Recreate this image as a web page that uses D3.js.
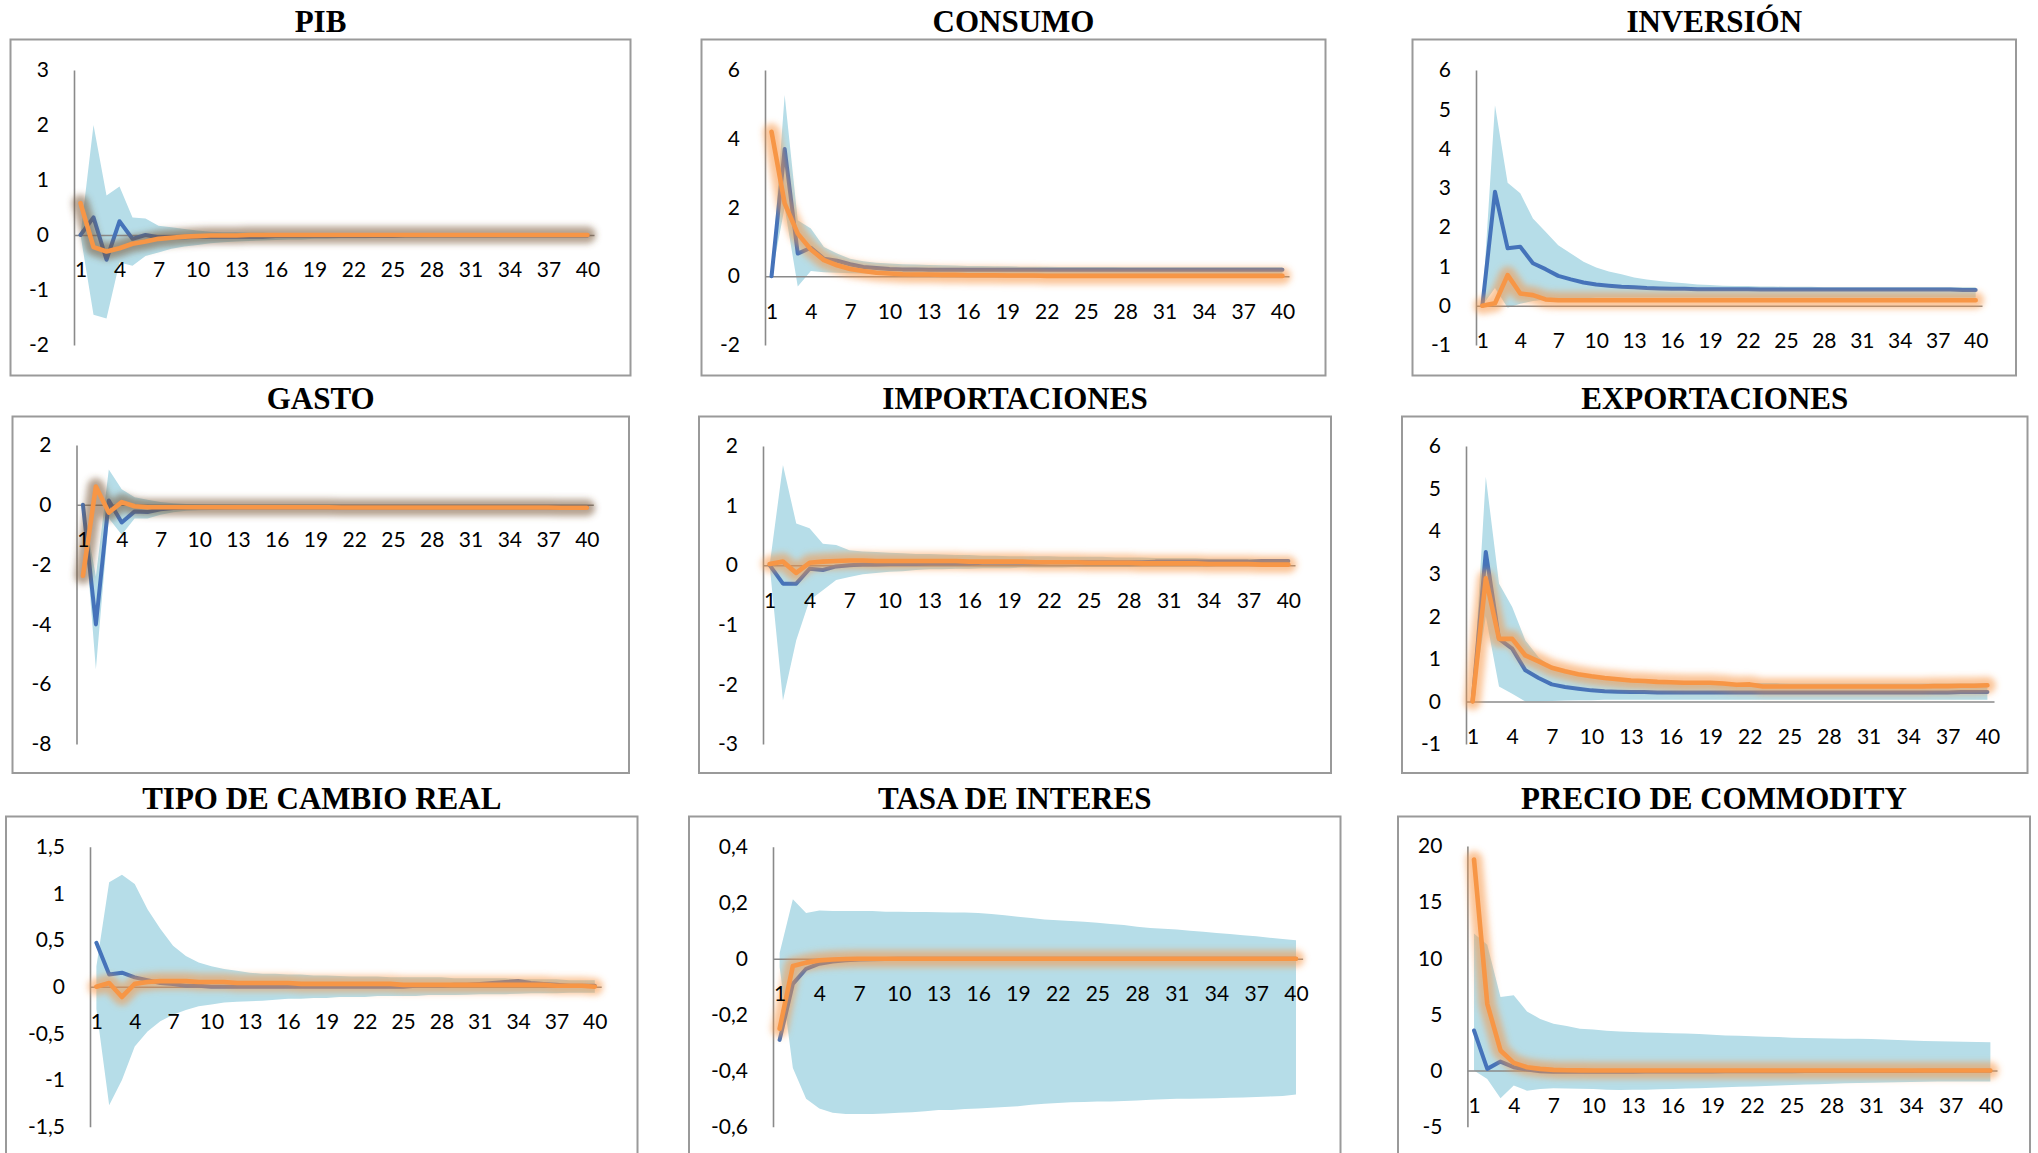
<!DOCTYPE html>
<html><head><meta charset="utf-8">
<script src="https://cdn.jsdelivr.net/npm/d3@7"></script>
<style>
html,body{margin:0;padding:0;background:#fff;}
svg{display:block;}
.title{font-family:"Liberation Serif","Times New Roman",serif;font-weight:bold;font-size:31px;fill:#000;}
.tick text{font-family:Lato,"Open Sans",sans-serif;font-size:21px;fill:#000;}
</style></head><body>
<svg id="chart" width="2038" height="1153"></svg>
<script>
const periods = d3.range(1, 41);
const xTickValues = [1,4,7,10,13,16,19,22,25,28,31,34,37,40];
const titles = ["PIB","CONSUMO","INVERSIÓN","GASTO","IMPORTACIONES","EXPORTACIONES","TIPO DE CAMBIO REAL","TASA DE INTERES","PRECIO DE COMMODITY"];

const pibTicks = [-2,-1,0,1,2,3];
const consTicks = [-2,0,2,4,6];
const invTicks = [-1,0,1,2,3,4,5,6];
const gasTicks = [-8,-6,-4,-2,0,2];
const impTicks = [-3,-2,-1,0,1,2];
const expTicks = [-1,0,1,2,3,4,5,6];
const tcrTicks = [-1.5,-1,-0.5,0,0.5,1,1.5];
const tasaTicks = [-0.6,-0.4,-0.2,0,0.2,0.4];
const comTicks = [-5,0,5,10,15,20];

const pibBlue = [0,0.32,-0.45,0.25,-0.07,0.00,-0.04,-0.04,-0.04,-0.03,
 -0.03,-0.03,-0.03,-0.03,-0.03,-0.02,-0.02,-0.02,-0.02,-0.02,
 -0.02,-0.02,-0.02,-0.02,-0.02,-0.01,-0.01,-0.01,-0.01,-0.01,
 -0.01,-0.01,-0.01,-0.01,-0.01,-0.01,-0.01,-0.01,-0.01,-0.01];
const pibOrange = [0.58,-0.22,-0.30,-0.24,-0.16,-0.12,-0.07,-0.05,-0.03,-0.02,
 -0.01,-0.01,-0.01,0,0,0,0,0,0,0,
 0,0,0,0,0,0,0,0,0,0,
 0,0,0,0,0,0,0,0,0,0];
const pibUpper = [0,2.00,0.72,0.88,0.32,0.30,0.17,0.14,0.11,0.08,
 0.06,0.05,0.05,0.04,0.04,0.03,0.03,0.03,0.03,0.02,
 0.02,0.02,0.02,0.02,0.02,0.02,0.02,0.02,0.02,0.02,
 0.02,0.02,0.02,0.02,0.02,0.02,0.02,0.02,0.02,0.02];
const pibLower = [0,-1.45,-1.52,-0.50,-0.56,-0.38,-0.32,-0.25,-0.21,-0.18,
 -0.15,-0.13,-0.12,-0.11,-0.10,-0.09,-0.08,-0.08,-0.07,-0.07,
 -0.06,-0.06,-0.06,-0.05,-0.05,-0.05,-0.05,-0.04,-0.04,-0.04,
 -0.04,-0.04,-0.04,-0.03,-0.03,-0.03,-0.03,-0.03,-0.03,-0.03];

const consBlue = [0,3.70,0.66,0.83,0.51,0.45,0.35,0.27,0.24,0.21,
 0.20,0.20,0.19,0.19,0.19,0.19,0.19,0.19,0.19,0.19,
 0.19,0.19,0.19,0.19,0.19,0.19,0.19,0.19,0.19,0.19,
 0.19,0.19,0.19,0.19,0.19,0.19,0.19,0.19,0.19,0.19];
const consOrange = [4.20,2.12,1.24,0.78,0.47,0.32,0.21,0.15,0.10,0.08,
 0.06,0.05,0.05,0.04,0.04,0.03,0.03,0.03,0.02,0.02,
 0.02,0.01,0.01,0.01,0.01,0.01,0.01,0.01,0.01,0.01,
 0.01,0.01,0.01,0.01,0.01,0.01,0.01,0.01,0.01,0.01];
const consUpper = [0,5.27,1.63,1.39,0.85,0.66,0.51,0.44,0.39,0.37,
 0.35,0.34,0.33,0.32,0.31,0.30,0.30,0.29,0.29,0.28,
 0.28,0.28,0.27,0.27,0.27,0.27,0.27,0.26,0.26,0.26,
 0.26,0.26,0.26,0.26,0.26,0.26,0.26,0.26,0.26,0.26];
const consLower = [0,2.00,-0.30,0.15,0.12,0.10,0.09,0.08,0.07,0.07,
 0.06,0.06,0.06,0.06,0.06,0.06,0.06,0.06,0.06,0.06,
 0.06,0.06,0.06,0.06,0.06,0.06,0.06,0.06,0.06,0.06,
 0.06,0.06,0.06,0.06,0.06,0.06,0.06,0.06,0.06,0.06];

const invBlue = [0,2.90,1.46,1.50,1.08,0.93,0.76,0.67,0.59,0.54,
 0.51,0.48,0.47,0.45,0.44,0.43,0.43,0.42,0.42,0.42,
 0.42,0.42,0.41,0.41,0.41,0.41,0.41,0.41,0.41,0.41,
 0.41,0.41,0.41,0.41,0.41,0.41,0.41,0.41,0.40,0.40];
const invOrange = [0,0.06,0.78,0.31,0.27,0.16,0.14,0.14,0.14,0.14,
 0.14,0.14,0.14,0.14,0.14,0.14,0.14,0.14,0.14,0.14,
 0.14,0.14,0.14,0.14,0.14,0.14,0.14,0.14,0.14,0.14,
 0.14,0.14,0.14,0.14,0.14,0.14,0.14,0.14,0.14,0.14];
const invUpper = [0,5.10,3.13,2.86,2.22,1.88,1.54,1.33,1.12,0.97,
 0.87,0.80,0.72,0.67,0.63,0.60,0.57,0.54,0.53,0.51,
 0.50,0.50,0.49,0.49,0.48,0.48,0.48,0.47,0.47,0.47,
 0.47,0.47,0.47,0.47,0.47,0.47,0.47,0.47,0.47,0.47];
const invLower = [0,0.45,-0.05,0.05,0.12,0.15,0.17,0.18,0.19,0.20,
 0.20,0.20,0.20,0.20,0.20,0.20,0.20,0.20,0.20,0.20,
 0.20,0.20,0.20,0.20,0.20,0.20,0.20,0.20,0.20,0.20,
 0.20,0.20,0.20,0.20,0.20,0.20,0.20,0.20,0.20,0.20];

const gasBlue = [0,-4.00,0.14,-0.59,-0.22,-0.24,-0.15,-0.11,-0.09,-0.08,
 -0.08,-0.08,-0.08,-0.08,-0.08,-0.08,-0.08,-0.08,-0.08,-0.08,
 -0.08,-0.08,-0.08,-0.08,-0.08,-0.08,-0.08,-0.08,-0.08,-0.08,
 -0.08,-0.08,-0.08,-0.08,-0.08,-0.08,-0.08,-0.08,-0.08,-0.08];
const gasOrange = [-2.37,0.61,-0.26,0.09,-0.05,-0.08,-0.08,-0.08,-0.08,-0.08,
 -0.08,-0.08,-0.08,-0.08,-0.08,-0.08,-0.08,-0.08,-0.08,-0.08,
 -0.09,-0.09,-0.09,-0.09,-0.09,-0.09,-0.09,-0.09,-0.09,-0.09,
 -0.09,-0.09,-0.09,-0.09,-0.09,-0.09,-0.09,-0.10,-0.10,-0.10];
const gasUpper = [0,-2.40,1.18,0.52,0.25,0.17,0.09,0.05,0.03,0.02,
 0.01,0.01,0,0,0,0,0,0,0,0,
 0,0,0,0,0,0,0,0,0,0,
 0,0,0,0,0,0,0,0,0,0];
const gasLower = [0,-5.50,-0.45,-1.00,-0.46,-0.46,-0.33,-0.25,-0.20,-0.18,
 -0.17,-0.16,-0.15,-0.15,-0.15,-0.15,-0.15,-0.15,-0.15,-0.15,
 -0.15,-0.15,-0.15,-0.15,-0.15,-0.15,-0.15,-0.15,-0.15,-0.15,
 -0.15,-0.15,-0.15,-0.15,-0.15,-0.15,-0.15,-0.15,-0.15,-0.15];

const impBlue = [0,-0.31,-0.31,-0.06,-0.08,-0.02,0,0.01,0.01,0.02,
 0.02,0.02,0.03,0.03,0.03,0.03,0.04,0.04,0.04,0.04,
 0.04,0.05,0.05,0.05,0.05,0.05,0.05,0.05,0.05,0.06,
 0.06,0.06,0.06,0.06,0.06,0.06,0.06,0.07,0.07,0.07];
const impOrange = [0.02,0.06,-0.13,0.04,0.06,0.07,0.08,0.08,0.07,0.07,
 0.07,0.07,0.07,0.07,0.07,0.06,0.06,0.06,0.06,0.06,
 0.05,0.05,0.05,0.05,0.04,0.04,0.04,0.04,0.03,0.03,
 0.03,0.03,0.03,0.02,0.02,0.02,0.02,0.01,0.01,0.01];
const impUpper = [0,1.68,0.70,0.62,0.36,0.34,0.25,0.23,0.22,0.21,
 0.20,0.19,0.19,0.18,0.17,0.17,0.16,0.16,0.15,0.15,
 0.15,0.15,0.14,0.14,0.14,0.14,0.13,0.13,0.13,0.12,
 0.12,0.12,0.12,0.11,0.11,0.11,0.11,0.10,0.10,0.10];
const impLower = [0,-2.27,-1.26,-0.59,-0.42,-0.25,-0.20,-0.15,-0.13,-0.11,
 -0.10,-0.08,-0.07,-0.07,-0.06,-0.06,-0.05,-0.05,-0.05,-0.04,
 -0.04,-0.04,-0.04,-0.03,-0.03,-0.03,-0.03,-0.03,-0.02,-0.02,
 -0.02,-0.02,-0.02,-0.02,-0.01,-0.01,-0.01,-0.01,-0.01,-0.01];

const expBlue = [0,3.51,1.47,1.24,0.73,0.55,0.40,0.34,0.30,0.26,
 0.24,0.23,0.22,0.22,0.21,0.21,0.21,0.21,0.21,0.21,
 0.21,0.21,0.21,0.21,0.21,0.21,0.21,0.21,0.21,0.21,
 0.21,0.21,0.21,0.21,0.21,0.21,0.21,0.22,0.22,0.22];
const expOrange = [0,2.89,1.47,1.47,1.08,0.94,0.79,0.71,0.64,0.59,
 0.55,0.52,0.49,0.48,0.46,0.45,0.44,0.44,0.44,0.42,
 0.39,0.40,0.35,0.35,0.35,0.35,0.35,0.35,0.35,0.35,
 0.35,0.35,0.35,0.35,0.35,0.36,0.36,0.37,0.37,0.38];
const expUpper = [0,5.28,2.77,2.22,1.43,1.04,0.81,0.70,0.62,0.56,
 0.52,0.50,0.48,0.47,0.46,0.45,0.45,0.44,0.44,0.44,
 0.43,0.43,0.43,0.43,0.42,0.42,0.42,0.42,0.42,0.42,
 0.42,0.42,0.42,0.42,0.42,0.42,0.42,0.42,0.42,0.42];
const expLower = [0,2.00,0.35,0.18,0,0,0.01,0.02,0.03,0.03,
 0.04,0.04,0.04,0.04,0.04,0.04,0.04,0.04,0.04,0.04,
 0.04,0.04,0.04,0.04,0.04,0.04,0.04,0.04,0.04,0.04,
 0.04,0.04,0.04,0.04,0.04,0.04,0.04,0.04,0.04,0.04];

const tcrBlue = [0.47,0.13,0.15,0.10,0.07,0.04,0.03,0.01,0.01,0,
 0,0,0,0,0,0,0,0,0,0,
 0,0,0,0,0,0.01,0.01,0.01,0.02,0.02,
 0.03,0.04,0.05,0.06,0.04,0.03,0.02,0.01,0.01,0.01];
const tcrOrange = [0,0.04,-0.11,0.03,0.05,0.06,0.06,0.06,0.05,0.05,
 0.05,0.04,0.04,0.04,0.04,0.04,0.03,0.03,0.03,0.03,
 0.03,0.03,0.03,0.03,0.02,0.02,0.02,0.02,0.02,0.02,
 0.02,0.02,0.02,0.02,0.02,0.02,0.01,0.01,0.01,0];
const tcrUpper = [0.22,1.12,1.20,1.10,0.83,0.62,0.44,0.33,0.26,0.22,
 0.19,0.17,0.15,0.14,0.14,0.13,0.13,0.12,0.12,0.115,
 0.11,0.11,0.11,0.10,0.10,0.10,0.10,0.10,0.09,0.09,
 0.09,0.09,0.09,0.08,0.08,0.08,0.08,0.07,0.07,0.07];
const tcrLower = [-0.24,-1.27,-1.00,-0.64,-0.48,-0.37,-0.30,-0.25,-0.21,-0.19,
 -0.17,-0.16,-0.155,-0.15,-0.14,-0.13,-0.13,-0.12,-0.12,-0.11,
 -0.11,-0.11,-0.10,-0.10,-0.10,-0.10,-0.09,-0.09,-0.09,-0.085,
 -0.08,-0.08,-0.08,-0.075,-0.07,-0.07,-0.07,-0.065,-0.065,-0.065];

const tasaBlue = [-0.29,-0.09,-0.036,-0.018,-0.01,-0.006,-0.003,-0.002,-0.001,0,
 0,0,0,0,0,0,0,0,0,0,
 0,0,0,0,0,0,0,0,0,0,
 0,0,0,0,0,0,0,0,0,0];
const tasaOrange = [-0.25,-0.026,-0.014,-0.006,-0.003,-0.001,0,0,0,0,
 0,0,0,0,0,0,0,0,0,0,
 0,0,0,0,0,0,0,0,0,0,
 0,0,0,0,0,0,0,0,0,0];
const tasaUpper = [0.02,0.212,0.163,0.172,0.17,0.17,0.17,0.17,0.168,0.168,
 0.167,0.167,0.166,0.165,0.165,0.163,0.16,0.155,0.15,0.145,
 0.14,0.137,0.135,0.132,0.128,0.124,0.12,0.114,0.11,0.107,
 0.104,0.10,0.096,0.092,0.088,0.084,0.08,0.075,0.07,0.066];
const tasaLower = [-0.03,-0.39,-0.50,-0.535,-0.55,-0.555,-0.555,-0.555,-0.553,-0.55,
 -0.548,-0.545,-0.54,-0.54,-0.537,-0.535,-0.532,-0.53,-0.527,-0.522,
 -0.518,-0.515,-0.513,-0.512,-0.51,-0.51,-0.508,-0.506,-0.504,-0.502,
 -0.50,-0.50,-0.499,-0.498,-0.497,-0.496,-0.494,-0.492,-0.49,-0.485];

const comBlue = [3.57,0.15,0.80,0.30,0.09,-0.06,-0.10,-0.10,-0.10,-0.10,
 -0.10,-0.10,-0.10,-0.09,-0.09,-0.09,-0.08,-0.08,-0.08,-0.07,
 -0.07,-0.07,-0.06,-0.06,-0.06,-0.05,-0.05,-0.05,-0.04,-0.04,
 -0.04,-0.03,-0.03,-0.03,-0.02,-0.02,-0.02,-0.01,-0.01,-0.01];
const comOrange = [18.8,5.95,1.79,0.68,0.30,0.15,0.06,0.03,0.02,0.01,
 0,0,0,0,0,0,0,0,0,0,
 0,0,0,0,0,0,0,0,0,0,
 0,0,0,0,0,0,0,0,0,0];
const comUpper = [12.2,11.2,6.55,6.70,5.27,4.60,4.17,3.96,3.72,3.66,
 3.55,3.48,3.44,3.40,3.36,3.33,3.30,3.26,3.20,3.12,
 3.10,3.06,3.02,2.98,2.92,2.90,2.88,2.86,2.84,2.83,
 2.80,2.76,2.72,2.68,2.64,2.60,2.58,2.56,2.55,2.53];
const comLower = [0,-0.75,-2.47,-1.34,-1.79,-1.64,-1.58,-1.60,-1.62,-1.65,
 -1.70,-1.73,-1.72,-1.70,-1.66,-1.64,-1.60,-1.57,-1.53,-1.49,
 -1.45,-1.41,-1.37,-1.33,-1.28,-1.25,-1.22,-1.18,-1.14,-1.10,
 -1.08,-1.06,-1.04,-1.02,-1.00,-0.98,-0.98,-0.98,-0.98,-0.98];

// layout (positions/styles) kept separate from the data
const brown = {c:"#7a5535", o:0.55};
const orng = {c:"#f79646", o:0.55};
const panels = [
 {title:titles[0], blue:pibBlue, orange:pibOrange, lower:pibLower, upper:pibUpper, ticks:pibTicks,
  frame:[10.5,39.5,630.5,375.5], titleY:31.5, ax:74, step:13.0, yPix:[345,70], glow:brown},
 {title:titles[1], blue:consBlue, orange:consOrange, lower:consLower, upper:consUpper, ticks:consTicks,
  frame:[701.5,39.5,1325.5,375.5], titleY:31.5, ax:765, step:13.1, yPix:[345,70], glow:orng},
 {title:titles[2], blue:invBlue, orange:invOrange, lower:invLower, upper:invUpper, ticks:invTicks,
  frame:[1412.5,39.5,2016,375.5], titleY:31.5, ax:1476, step:12.65, yPix:[345,70], glow:orng},
 {title:titles[3], blue:gasBlue, orange:gasOrange, lower:gasLower, upper:gasUpper, ticks:gasTicks,
  frame:[12.5,416.5,629,773], titleY:409, ax:76.5, step:12.92, yPix:[744,445], glow:brown},
 {title:titles[4], blue:impBlue, orange:impOrange, lower:impLower, upper:impUpper, ticks:impTicks,
  frame:[699,416.5,1331,773], titleY:409, ax:763, step:13.3, yPix:[744,446], glow:orng},
 {title:titles[5], blue:expBlue, orange:expOrange, lower:expLower, upper:expUpper, ticks:expTicks,
  frame:[1402,416.5,2027.5,773], titleY:409, ax:1466, step:13.2, yPix:[744,446], glow:orng},
 {title:titles[6], blue:tcrBlue, orange:tcrOrange, lower:tcrLower, upper:tcrUpper, ticks:tcrTicks,
  frame:[6,816.5,637.5,1175], titleY:809, ax:90, step:12.78, yPix:[1126.7,846.7], glow:orng},
 {title:titles[7], blue:tasaBlue, orange:tasaOrange, lower:tasaLower, upper:tasaUpper, ticks:tasaTicks,
  frame:[689,816.5,1340.5,1175], titleY:809, ax:773, step:13.24, yPix:[1126.7,846.7], glow:orng},
 {title:titles[8], blue:comBlue, orange:comOrange, lower:comLower, upper:comUpper, ticks:comTicks,
  frame:[1398,816.5,2030,1175], titleY:809, ax:1467.4, step:13.24, yPix:[1126.7,846], glow:orng}
];

const svg = d3.select("#chart");
svg.append("rect").attr("width",2038).attr("height",1153).attr("fill","#fff");
const defs = svg.append("defs");
defs.append("filter").attr("id","glow").attr("filterUnits","userSpaceOnUse")
  .attr("x",0).attr("y",0).attr("width",2038).attr("height",1153)
  .append("feGaussianBlur").attr("stdDeviation",3.2);

const locale = d3.formatLocale({decimal:",", thousands:".", grouping:[3], currency:["",""], minus:"-"});
const fmt = locale.format("~g");
const idx = d3.range(periods.length);

panels.forEach(p => {
  const g = svg.append("g");
  g.append("rect").attr("x",p.frame[0]).attr("y",p.frame[1])
    .attr("width",p.frame[2]-p.frame[0]).attr("height",p.frame[3]-p.frame[1])
    .attr("fill","#fff").attr("stroke","#9a9a9a").attr("stroke-width",2);
  g.append("text").attr("class","title").attr("x",(p.frame[0]+p.frame[2])/2).attr("y",p.titleY)
    .attr("text-anchor","middle").text(p.title);

  const x = d3.scaleLinear().domain([0.5,40.5]).range([p.ax, p.ax+40*p.step]);
  const y = d3.scaleLinear().domain(d3.extent(p.ticks)).range(p.yPix);

  const area = d3.area().x(i=>x(periods[i])).y0(i=>y(p.lower[i])).y1(i=>y(p.upper[i]));
  g.append("path").datum(idx).attr("d",area).attr("fill","#b6dde8");

  const ya = g.append("g").attr("transform",`translate(${p.ax},0)`)
    .call(d3.axisLeft(y).tickValues(p.ticks).tickSize(0).tickPadding(25).tickFormat(fmt));
  ya.select(".domain").attr("stroke","#8a8a8a").attr("stroke-width",1.6);

  const za = g.append("g").attr("transform",`translate(0,${y(0)})`)
    .call(d3.axisBottom(x).tickValues([]).tickSize(0));
  za.select(".domain").attr("stroke","#8a8a8a").attr("stroke-width",1.6);

  const mk = src => d3.line().x(i=>x(periods[i])).y(i=>y(src[i]))(idx);
  g.append("path").attr("d",mk(p.blue)).attr("fill","none").attr("stroke","#4573ba")
    .attr("stroke-width",4).attr("stroke-linejoin","round").attr("stroke-linecap","round");
  g.append("path").attr("d",mk(p.orange)).attr("fill","none").attr("stroke",p.glow.c)
    .attr("stroke-opacity",p.glow.o).attr("stroke-width",17).attr("stroke-linejoin","round")
    .attr("stroke-linecap","round").attr("filter","url(#glow)");
  g.append("path").attr("d",mk(p.orange)).attr("fill","none").attr("stroke","#f79646")
    .attr("stroke-width",4.6).attr("stroke-linejoin","round").attr("stroke-linecap","round");

  const xl = g.append("g").attr("transform",`translate(0,${y(0)})`)
    .call(d3.axisBottom(x).tickValues(xTickValues).tickSize(0).tickFormat(d3.format("d")));
  xl.select(".domain").remove();
  xl.selectAll("text").attr("y",35).attr("dy","0.35em");
});
</script>
</body></html>
